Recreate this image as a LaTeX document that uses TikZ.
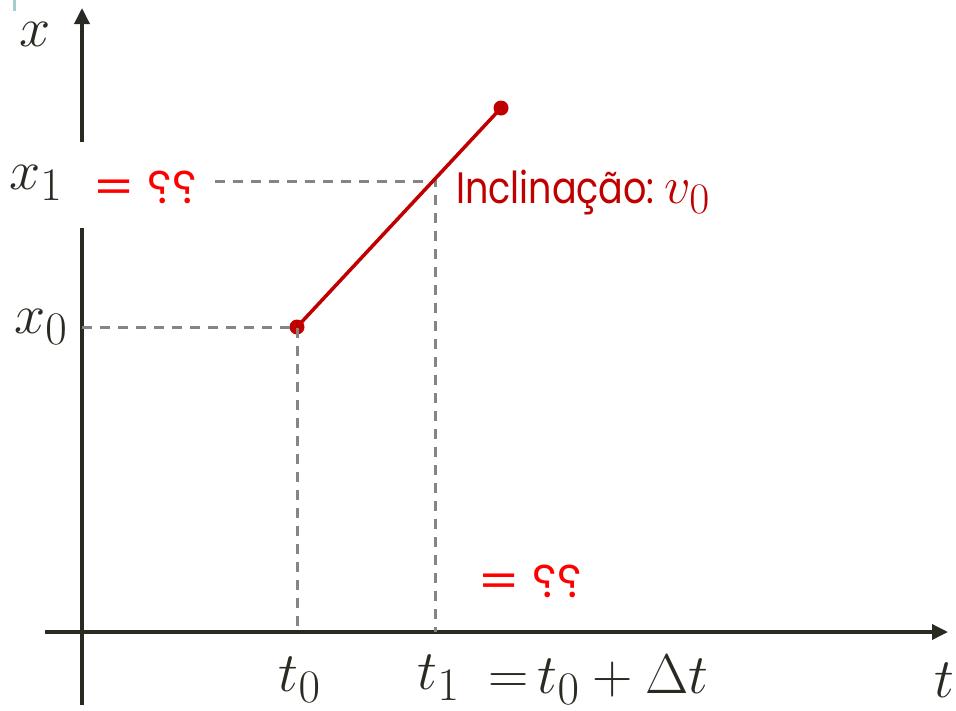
\documentclass[tikz,border=0pt]{standalone}
\usepackage{fontspec}
\newfontfamily\poppins{Poppins}
\usetikzlibrary{arrows.meta}
\definecolor{axiscol}{HTML}{2B2A22}
\definecolor{darkred}{HTML}{C00000}
\definecolor{brightred}{HTML}{FF0000}
\definecolor{dashgray}{HTML}{858585}
\definecolor{tealmark}{HTML}{A8CCCC}
\tikzset{
  axis/.style={draw=axiscol, line width=3.5pt, -{Triangle[length=16pt,width=15pt]}},
  guide/.style={draw=dashgray, line width=3pt, dash pattern=on 10pt off 8pt},
  mathlbl/.style={text=axiscol, inner sep=0pt, font=\Huge},
  redq/.style={text=brightred, inner sep=0pt, anchor=base west, font=\poppins\fontsize{46}{50}\selectfont},
  incl/.style={text=darkred, inner sep=0pt, anchor=base west, font=\poppins\fontsize{44}{48}\selectfont},
  dot/.style={circle, fill=darkred, inner sep=0pt, minimum size=15pt}
}
\newcommand{\revq}{\reflectbox{?}}
\newcommand{\mylbl}[1]{\scalebox{2.25}{$#1$}}
\newcommand{\redeq}{\scalebox{1.3}[1]{=}\hspace{12pt}\revq\hspace{1pt}\revq}
\begin{document}
\begin{tikzpicture}[x=1pt,y=-1pt]
\useasboundingbox (0,0) rectangle (956,710);
\fill[tealmark] (13,0) rectangle (16,11);
% coordinates
\coordinate (vb) at (82,705);
\coordinate (vt) at (82,8);
\coordinate (hl) at (45,632);
\coordinate (hr) at (948,632);
\node[dot] (p0) at (297,327) {};
\node[dot] (p1) at (501,108) {};
\coordinate (x0a) at (82,327);
\coordinate (t0a) at (297,632);
\coordinate (x1a) at (215,181);
\coordinate (c1) at (435,181);
\coordinate (t1a) at (435,632);
% axes
\draw[axis] (vb) -- (vt);
\draw[axis] (hl) -- (hr);
% guides
\draw[guide] (x0a) -- (p0.center) -- (t0a);
\draw[guide] (x1a) -- (c1) -- (t1a);
% red line
\draw[darkred, line width=3.5pt] (p0.center) -- (p1.center);
% labels
\node[fill=white, minimum width=200pt, minimum height=86pt, anchor=west, inner sep=0pt] (x1box) at (0,185) {};
\node[mathlbl] (xl) at (35,34) {\mylbl{x}};
\node[mathlbl] (tl) at (944,680) {\mylbl{t}};
\node[mathlbl] (x1l) at (36,183) {\mylbl{x_1}};
\node[redq] (q1) at (92,203) {\redeq};
\node[mathlbl] (x0l) at (41,327) {\mylbl{x_0}};
\node[mathlbl] (t0l) at (300,680) {\mylbl{t_0}};
\node[mathlbl] (t1l) at (439,678) {\mylbl{t_1}};
\node[mathlbl, anchor=west] (t1e) at (488,680) {\mylbl{{=}\,t_0+\Delta t}};
\node[redq] (q2) at (477,597) {\redeq};
\node[incl] (sl) at (456,203) {\scalebox{0.83}[1]{Inclinação:}\hspace{10pt}{\Huge\scalebox{2.1}{$v_0$}}};
\end{tikzpicture}
\end{document}
